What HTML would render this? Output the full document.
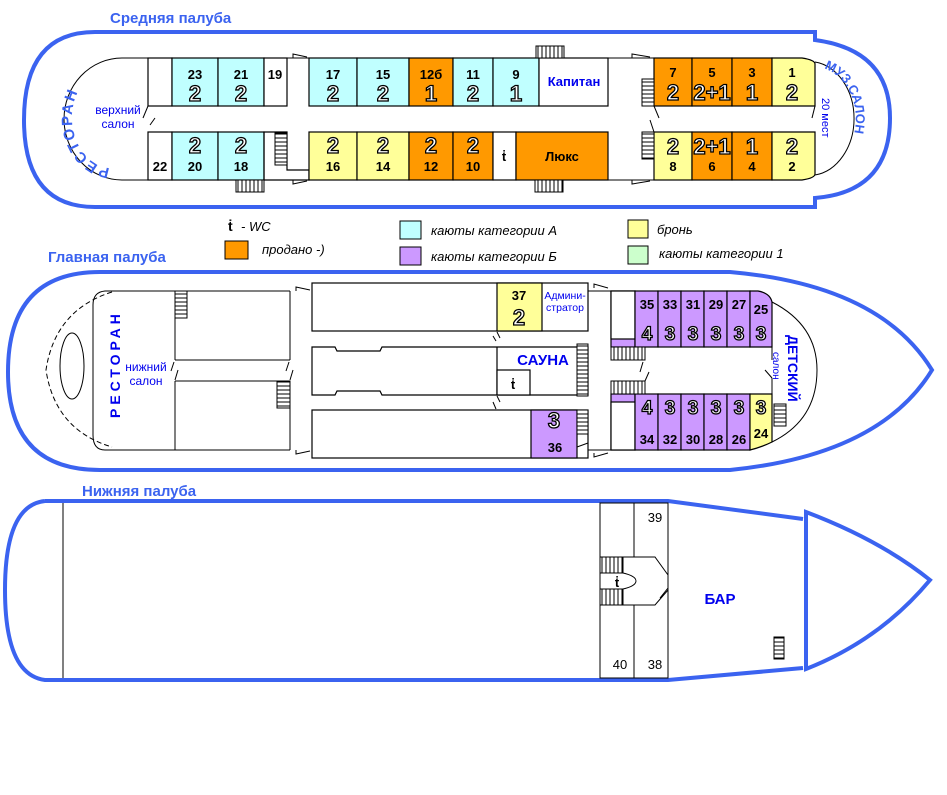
<!DOCTYPE html>
<html><head><meta charset="utf-8"><style>
html,body{margin:0;padding:0;background:#fff}
svg{display:block}
text{font-family:"Liberation Sans",sans-serif}
.n{font-size:13px;font-weight:bold;text-anchor:middle;fill:#000}
.b{font-size:22px;font-weight:bold;text-anchor:middle;fill:#fff;stroke:#000;stroke-width:1.3}
.bl{fill:#0000ee}
.t{font-size:15px;font-weight:bold;fill:#3b63f0}
.c{stroke:#000;stroke-width:1.2}
.L{font-size:13px;font-style:italic;fill:#000}
</style></head><body>
<svg width="947" height="795" viewBox="0 0 947 795" xmlns="http://www.w3.org/2000/svg">
<defs>
<pattern id="st" width="4" height="4" patternUnits="userSpaceOnUse"><rect width="4" height="4" fill="#fff"/><line x1="0" y1="2" x2="4" y2="2" stroke="#000" stroke-width="1"/></pattern>
<pattern id="sv" width="4" height="4" patternUnits="userSpaceOnUse"><rect width="4" height="4" fill="#fff"/><line x1="2" y1="0" x2="2" y2="4" stroke="#000" stroke-width="1"/></pattern>
<path id="rest1" d="M 112 168 A 40 50 0 0 1 112 68"/>
<path id="muz" d="M 822 68 A 42 52 0 0 1 822 170"/>
</defs>

<!-- ===== TOP DECK ===== -->
<text x="110" y="23" class="t">Средняя палуба</text>
<path d="M 95 32 L 815 32 L 815 40 Q 890 50 890 118 Q 890 192 815 198 L 815 207 L 95 207 Q 24 207 24 120 Q 24 32 95 32 Z" fill="none" stroke="#3b63f0" stroke-width="4"/>
<path d="M 148 58 L 122 58 A 58 61 0 0 0 122 180 L 148 180" fill="none" stroke="#000" stroke-width="1"/>
<text style="font-size:15px;font-weight:bold;letter-spacing:2px" fill="#3b63f0"><textPath href="#rest1" startOffset="2">РЕСТОРАН</textPath></text>
<text x="118" y="114" style="font-size:12px" class="bl" text-anchor="middle">верхний</text>
<text x="118" y="128" style="font-size:12px" class="bl" text-anchor="middle">салон</text>
<line x1="143" y1="118" x2="148" y2="106" stroke="#000"/>
<line x1="150" y1="125" x2="155" y2="118" stroke="#000"/>

<g class="c" fill="#fff">
<rect x="148" y="58" width="24" height="48"/>
<rect x="172" y="58" width="46" height="48" fill="#c0ffff"/>
<rect x="218" y="58" width="46" height="48" fill="#c0ffff"/>
<rect x="264" y="58" width="23" height="48"/>
<rect x="309" y="58" width="48" height="48" fill="#c0ffff"/>
<rect x="357" y="58" width="52" height="48" fill="#c0ffff"/>
<rect x="409" y="58" width="44" height="48" fill="#ff9900"/>
<rect x="453" y="58" width="40" height="48" fill="#c0ffff"/>
<rect x="493" y="58" width="46" height="48" fill="#c0ffff"/>
<rect x="539" y="58" width="69" height="48"/>
<rect x="654" y="58" width="38" height="48" fill="#ff9900"/>
<rect x="692" y="58" width="40" height="48" fill="#ff9900"/>
<rect x="732" y="58" width="40" height="48" fill="#ff9900"/>
<path d="M 772 58 L 802 58 Q 815 60 815 64 L 815 106 L 772 106 Z" fill="#ffff99"/>
<rect x="148" y="132" width="24" height="48"/>
<rect x="172" y="132" width="46" height="48" fill="#c0ffff"/>
<rect x="218" y="132" width="46" height="48" fill="#c0ffff"/>
<path d="M 264 132 L 287 132 L 287 170 L 309 170 L 309 180 L 264 180 Z" fill="none"/>
<rect x="309" y="132" width="48" height="48" fill="#ffff99"/>
<rect x="357" y="132" width="52" height="48" fill="#ffff99"/>
<rect x="409" y="132" width="44" height="48" fill="#ff9900"/>
<rect x="453" y="132" width="40" height="48" fill="#ff9900"/>
<rect x="493" y="132" width="23" height="48"/>
<rect x="516" y="132" width="92" height="48" fill="#ff9900"/>
<rect x="654" y="132" width="38" height="48" fill="#ffff99"/>
<rect x="692" y="132" width="40" height="48" fill="#ff9900"/>
<rect x="732" y="132" width="40" height="48" fill="#ff9900"/>
<path d="M 772 132 L 815 132 L 815 174 Q 815 178 802 180 L 772 180 Z" fill="#ffff99"/>
</g>
<line x1="287" y1="58" x2="309" y2="58" stroke="#000"/>
<line x1="287" y1="180" x2="309" y2="180" stroke="#000"/>
<line x1="608" y1="58" x2="654" y2="58" stroke="#000"/>
<line x1="608" y1="180" x2="654" y2="180" stroke="#000"/>
<path d="M 293 58 L 293 54 L 307 57" fill="none" stroke="#000"/>
<path d="M 293 180 L 293 184 L 307 181" fill="none" stroke="#000"/>
<path d="M 632 58 L 632 54 L 650 57" fill="none" stroke="#000"/>
<path d="M 632 180 L 632 184 L 650 181" fill="none" stroke="#000"/>
<rect x="275" y="133" width="12" height="32" fill="url(#st)" stroke="#000"/>
<rect x="236" y="180" width="28" height="12" fill="url(#sv)" stroke="#000"/>
<rect x="536" y="46" width="28" height="12" fill="url(#sv)" stroke="#000"/>
<rect x="535" y="180" width="28" height="12" fill="url(#sv)" stroke="#000"/>
<rect x="642" y="79" width="12" height="27" fill="url(#st)" stroke="#000"/>
<rect x="642" y="132" width="12" height="27" fill="url(#st)" stroke="#000"/>
<line x1="654" y1="106" x2="659" y2="118" stroke="#000"/>
<line x1="650" y1="120" x2="654" y2="132" stroke="#000"/>
<line x1="815" y1="106" x2="812" y2="118" stroke="#000"/>
<path d="M 815 62 A 45 57 0 0 1 815 175" fill="none" stroke="#000"/>
<text style="font-size:13px;font-weight:bold" fill="#3b63f0"><textPath href="#muz" startOffset="2">МУЗ.САЛОН</textPath></text>
<text x="0" y="0" transform="translate(822,98) rotate(90)" style="font-size:11px" class="bl">20 мест</text>

<g class="n">
<text x="195" y="79">23</text><text x="241" y="79">21</text><text x="275" y="79">19</text>
<text x="333" y="79">17</text><text x="383" y="79">15</text><text x="431" y="79">12б</text>
<text x="473" y="79">11</text><text x="516" y="79">9</text>
<text x="673" y="77">7</text><text x="712" y="77">5</text><text x="752" y="77">3</text><text x="792" y="77">1</text>
<text x="160" y="171">22</text><text x="195" y="171">20</text><text x="241" y="171">18</text>
<text x="333" y="171">16</text><text x="383" y="171">14</text><text x="431" y="171">12</text><text x="473" y="171">10</text>
<text x="673" y="171">8</text><text x="712" y="171">6</text><text x="752" y="171">4</text><text x="792" y="171">2</text>
<text x="562" y="161">Люкс</text>
</g>
<text x="574" y="86" style="font-size:13px;font-weight:bold" class="bl" text-anchor="middle">Капитан</text>
<text x="504" y="161" class="n">ṫ</text>
<g class="b">
<text x="195" y="101">2</text><text x="241" y="101">2</text>
<text x="333" y="101">2</text><text x="383" y="101">2</text><text x="431" y="101">1</text>
<text x="473" y="101">2</text><text x="516" y="101">1</text>
<text x="673" y="100">2</text><text x="712" y="100">2+1</text><text x="752" y="100">1</text><text x="792" y="100">2</text>
<text x="195" y="153">2</text><text x="241" y="153">2</text>
<text x="333" y="153">2</text><text x="383" y="153">2</text><text x="431" y="153">2</text><text x="473" y="153">2</text>
<text x="673" y="154">2</text><text x="712" y="154">2+1</text><text x="752" y="154">1</text><text x="792" y="154">2</text>
</g>

<!-- ===== LEGEND ===== -->
<text x="228" y="231" style="font-size:14px;font-weight:bold">ṫ</text>
<text x="241" y="231" class="L">- WC</text>
<rect x="225" y="241" width="23" height="18" fill="#ff9900" stroke="#000"/>
<text x="262" y="254" class="L">продано -)</text>
<rect x="400" y="221" width="21" height="18" fill="#c0ffff" stroke="#000"/>
<text x="431" y="235" class="L">каюты категории А</text>
<rect x="400" y="247" width="21" height="18" fill="#cc99ff" stroke="#000"/>
<text x="431" y="261" class="L">каюты категории Б</text>
<rect x="628" y="220" width="20" height="18" fill="#ffff99" stroke="#000"/>
<text x="657" y="234" class="L">бронь</text>
<rect x="628" y="246" width="20" height="18" fill="#ccffcc" stroke="#000"/>
<text x="659" y="258" class="L">каюты категории 1</text>

<!-- ===== MAIN DECK ===== -->
<text x="48" y="262" class="t">Главная палуба</text>
<path d="M 100 272 L 730 272 Q 880 285 932 370 Q 880 455 730 470 L 100 470 Q 8 470 8 372 Q 8 272 100 272 Z" fill="none" stroke="#3b63f0" stroke-width="4"/>
<path d="M 112 292 Q 55 310 46 370 Q 55 430 112 447" fill="none" stroke="#000" stroke-dasharray="5,3"/>
<ellipse cx="72" cy="366" rx="12" ry="33" fill="none" stroke="#000"/>
<path d="M 290 291 L 105 291 Q 93 292 93 305 L 93 435 Q 93 450 105 450 L 290 450" fill="none" stroke="#000"/>
<line x1="175" y1="291" x2="175" y2="360" stroke="#000"/>
<line x1="175" y1="381" x2="175" y2="450" stroke="#000"/>
<line x1="175" y1="360" x2="290" y2="360" stroke="#000"/>
<line x1="175" y1="381" x2="290" y2="381" stroke="#000"/>
<line x1="290" y1="291" x2="290" y2="360" stroke="#000"/>
<line x1="290" y1="381" x2="290" y2="450" stroke="#000"/>
<line x1="171" y1="371" x2="174" y2="362" stroke="#000"/>
<line x1="175" y1="380" x2="178" y2="370" stroke="#000"/>
<line x1="286" y1="371" x2="289" y2="362" stroke="#000"/>
<line x1="290" y1="380" x2="293" y2="370" stroke="#000"/>
<rect x="175" y="291" width="12" height="27" fill="url(#st)" stroke="#000"/>
<rect x="277" y="381" width="13" height="27" fill="url(#st)" stroke="#000"/>
<text transform="translate(120,418) rotate(-90)" style="font-size:14px;letter-spacing:4px;font-weight:bold" class="bl">РЕСТОРАН</text>
<text x="146" y="371" style="font-size:12px" class="bl" text-anchor="middle">нижний</text>
<text x="146" y="385" style="font-size:12px" class="bl" text-anchor="middle">салон</text>
<path d="M 296 291 L 296 287 L 310 290" fill="none" stroke="#000"/>
<path d="M 296 450 L 296 454 L 310 451" fill="none" stroke="#000"/>

<g class="c" fill="#fff">
<rect x="312" y="283" width="276" height="48"/>
<rect x="497" y="283" width="45" height="48" fill="#ffff99"/>
<path d="M 312 347 L 335 347 L 337 351 L 380 351 L 382 347 L 588 347 L 588 395 L 382 395 L 380 391 L 337 391 L 335 395 L 312 395 Z"/>
<line x1="497" y1="347" x2="497" y2="395"/>
<rect x="497" y="370" width="33" height="25"/>
<rect x="312" y="410" width="276" height="48"/>
<rect x="531" y="410" width="46" height="48" fill="#cc99ff"/>
</g>
<rect x="577" y="344" width="11" height="52" fill="url(#st)" stroke="#000"/>
<rect x="577" y="410" width="11" height="24" fill="url(#st)" stroke="#000"/>
<line x1="577" y1="447" x2="588" y2="443" stroke="#000"/>
<line x1="493" y1="336" x2="496" y2="341" stroke="#000"/>
<line x1="497" y1="332" x2="500" y2="338" stroke="#000"/>
<line x1="493" y1="402" x2="496" y2="409" stroke="#000"/>
<line x1="497" y1="396" x2="500" y2="402" stroke="#000"/>
<path d="M 594 288 L 594 284 L 608 288" fill="none" stroke="#000"/>
<path d="M 594 453 L 594 457 L 608 453" fill="none" stroke="#000"/>
<line x1="588" y1="291" x2="611" y2="291" stroke="#000"/>
<line x1="588" y1="450" x2="611" y2="450" stroke="#000"/>
<text x="519" y="300" class="n">37</text>
<text x="519" y="325" class="b">2</text>
<text x="565" y="299" style="font-size:10.5px" class="bl" text-anchor="middle">Админи-</text>
<text x="565" y="311" style="font-size:10.5px" class="bl" text-anchor="middle">стратор</text>
<text x="543" y="365" style="font-size:15px;font-weight:bold" class="bl" text-anchor="middle">САУНА</text>
<text x="513" y="389" class="n">ṫ</text>
<text x="554" y="428" class="b">3</text>
<text x="555" y="452" class="n">36</text>

<g class="c" fill="#cc99ff">
<rect x="611" y="291" width="24" height="56"/>
<rect x="611" y="291" width="24" height="48" fill="#fff"/>
<rect x="635" y="291" width="23" height="56"/>
<rect x="658" y="291" width="23" height="56"/>
<rect x="681" y="291" width="23" height="56"/>
<rect x="704" y="291" width="23" height="56"/>
<rect x="727" y="291" width="23" height="56"/>
<path d="M 750 291 L 758 291 Q 770 293 772 302 L 772 347 L 750 347 Z"/>
<rect x="611" y="394" width="24" height="56"/>
<rect x="611" y="402" width="24" height="48" fill="#fff"/>
<rect x="635" y="394" width="23" height="56"/>
<rect x="658" y="394" width="23" height="56"/>
<rect x="681" y="394" width="23" height="56"/>
<rect x="704" y="394" width="23" height="56"/>
<rect x="727" y="394" width="23" height="56"/>
<path d="M 750 394 L 772 394 L 772 442 Q 762 447 750 450 Z" fill="#ffff99"/>
</g>
<rect x="611" y="347" width="34" height="13" fill="url(#sv)" stroke="#000"/>
<rect x="611" y="381" width="34" height="13" fill="url(#sv)" stroke="#000"/>
<line x1="640" y1="372" x2="643" y2="362" stroke="#000"/>
<line x1="645" y1="381" x2="649" y2="372" stroke="#000"/>
<line x1="772" y1="347" x2="772" y2="360" stroke="#000"/>
<line x1="765" y1="370" x2="772" y2="378" stroke="#000"/>
<line x1="772" y1="378" x2="772" y2="394" stroke="#000"/>
<rect x="774" y="404" width="12" height="22" fill="url(#st)" stroke="#000"/>
<path d="M 772 302 Q 817 325 817 370 Q 817 420 772 442" fill="none" stroke="#000"/>
<text transform="translate(788,335) rotate(90)" style="font-size:14px;font-weight:bold" class="bl">ДЕТСКИЙ</text>
<text transform="translate(773,352) rotate(90)" style="font-size:10px" class="bl">салон</text>
<g class="n">
<text x="647" y="309">35</text><text x="670" y="309">33</text><text x="693" y="309">31</text>
<text x="716" y="309">29</text><text x="739" y="309">27</text><text x="761" y="314">25</text>
<text x="647" y="444">34</text><text x="670" y="444">32</text><text x="693" y="444">30</text>
<text x="716" y="444">28</text><text x="739" y="444">26</text><text x="761" y="438">24</text>
</g>
<g class="b" style="font-size:19px">
<text x="647" y="340">4</text><text x="670" y="340">3</text><text x="693" y="340">3</text>
<text x="716" y="340">3</text><text x="739" y="340">3</text><text x="761" y="340">3</text>
<text x="647" y="414">4</text><text x="670" y="414">3</text><text x="693" y="414">3</text>
<text x="716" y="414">3</text><text x="739" y="414">3</text><text x="761" y="414">3</text>
</g>

<!-- ===== LOWER DECK ===== -->
<text x="82" y="496" class="t">Нижняя палуба</text>
<path d="M 45 501 L 668 501 L 803 519 M 803 668 L 668 680 L 45 680 Q 5 675 5 590 Q 5 505 45 501" fill="none" stroke="#3b63f0" stroke-width="4"/>
<path d="M 806 512 L 806 669 Q 880 640 930 580 Q 880 540 806 512 Z" fill="none" stroke="#3b63f0" stroke-width="4"/>
<line x1="63" y1="503" x2="63" y2="678" stroke="#000"/>
<rect x="600" y="503" width="68" height="175" fill="none" stroke="#000"/>
<line x1="634" y1="503" x2="634" y2="557" stroke="#000"/>
<line x1="634" y1="605" x2="634" y2="678" stroke="#000"/>
<path d="M 623 557 L 655 557 L 668 575 M 668 588 L 660 598 M 623 605 L 655 605 L 668 590" fill="none" stroke="#000"/>
<rect x="600" y="557" width="23" height="16" fill="url(#sv)" stroke="#000"/>
<rect x="600" y="589" width="23" height="16" fill="url(#sv)" stroke="#000"/>
<path d="M 623 573 Q 636 576 636 581 Q 636 586 623 589" fill="none" stroke="#000"/>
<text x="617" y="587" class="n">ṫ</text>
<text x="655" y="522" class="n" style="font-weight:normal">39</text>
<text x="620" y="669" class="n" style="font-weight:normal">40</text>
<text x="655" y="669" class="n" style="font-weight:normal">38</text>
<text x="720" y="604" style="font-size:15px;font-weight:bold" class="bl" text-anchor="middle">БАР</text>
<rect x="774" y="637" width="10" height="22" fill="url(#st)" stroke="#000"/>
</svg>
</body></html>
